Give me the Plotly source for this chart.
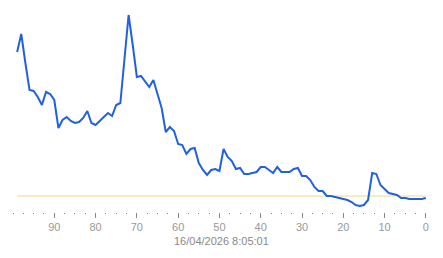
import plotly.graph_objects as go

# minutes ago (x) and reading values
minutes_ago = list(range(99, -1, -1))
values = [158, 176, 147, 120, 119, 113, 105, 118, 116, 110,
          82, 90, 93, 89, 87, 88, 92, 99, 87, 85,
          89, 93, 97, 94, 105, 107, 151, 195, 165, 133,
          134, 128, 123, 130, 117, 102, 78, 83, 79, 66,
          65, 56, 61, 62, 47, 40, 35, 40, 41, 39,
          61, 53, 49, 41, 42, 36, 36, 37, 38, 43,
          43, 40, 37, 43, 38, 38, 38, 41, 42, 34,
          34, 30, 23, 19, 19, 14, 14, 13, 12, 11,
          10, 8, 5, 4, 5, 10, 37, 36, 25, 21,
          17, 16, 15, 12, 12, 11, 11, 11, 11, 12]
threshold = [14] * len(minutes_ago)
tick_vals = [90, 80, 70, 60, 50, 40, 30, 20, 10, 0]
tick_text = ["90", "80", "70", "60", "50", "40", "30", "20", "10", "0"]
timestamp = "16/04/2026 8:05:01"

fig = go.Figure()
fig.add_trace(go.Scatter(x=minutes_ago, y=threshold, mode="lines",
                         line=dict(color="#f0d888", width=1), hoverinfo="skip"))
fig.add_trace(go.Scatter(x=minutes_ago, y=values, mode="lines",
                         line=dict(color="#2160df", width=2)))

fig.update_layout(
    width=443, height=258,
    margin=dict(l=13, r=13, t=10, b=46),
    paper_bgcolor="white", plot_bgcolor="white",
    showlegend=False,
    font=dict(family="Liberation Sans, Arial, sans-serif", size=11, color="#999999"),
    xaxis=dict(range=[100, -1], tickvals=tick_vals, ticktext=tick_text,
               showgrid=False, zeroline=False, showline=False,
               ticks="outside", ticklen=5, tickwidth=1, tickcolor="#888888",
               tickfont=dict(size=11, color="#999999"),
               minor=dict(dtick=2.5, tick0=0, ticks="outside", ticklen=1,
                          tickwidth=1, tickcolor="#888888", showgrid=False)),
    yaxis=dict(range=[-2, 200], visible=False, showgrid=False, zeroline=False),
    annotations=[dict(text=timestamp, x=0.5, xref="paper", y=0, yref="paper",
                      yanchor="middle", yshift=-29, showarrow=False,
                      font=dict(size=11, color="#888888"))],
)

fig.write_html("out.html")
